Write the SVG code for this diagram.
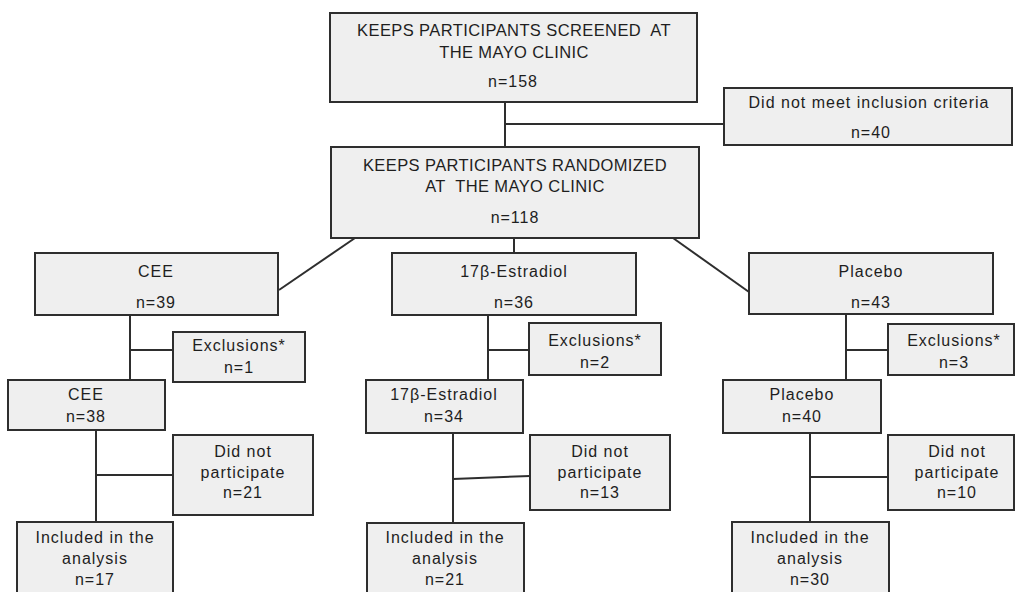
<svg xmlns="http://www.w3.org/2000/svg" width="1015" height="592" viewBox="0 0 1015 592">
<style>
.box{fill:#efefef;stroke:#2e2e2e;stroke-width:2}
.t{font-family:"Liberation Sans",Arial,sans-serif;font-size:16px;fill:#1e1e1e;text-anchor:middle;letter-spacing:1px}
.h{font-size:16.5px;letter-spacing:0.4px}
.c{stroke:#2e2e2e;stroke-width:2;fill:none}
</style>
<rect width="1015" height="592" fill="#ffffff"/>
<g id="connectors">
<line class="c" x1="505" y1="102" x2="505" y2="147"/>
<line class="c" x1="505" y1="124" x2="724" y2="124"/>
<line class="c" x1="514" y1="238" x2="514" y2="253"/>
<line class="c" x1="355" y1="238" x2="279" y2="290"/>
<line class="c" x1="673" y1="238" x2="749" y2="292"/>
<line class="c" x1="130" y1="315" x2="130" y2="380"/>
<line class="c" x1="130" y1="350" x2="173" y2="350"/>
<line class="c" x1="96" y1="430" x2="96" y2="522"/>
<line class="c" x1="96" y1="475" x2="173" y2="475"/>
<line class="c" x1="488" y1="315" x2="488" y2="380"/>
<line class="c" x1="488" y1="350" x2="529" y2="350"/>
<line class="c" x1="453" y1="433" x2="453" y2="523"/>
<line class="c" x1="453" y1="479" x2="530" y2="476"/>
<line class="c" x1="846" y1="314" x2="846" y2="380"/>
<line class="c" x1="846" y1="350" x2="888" y2="350"/>
<line class="c" x1="810" y1="433" x2="810" y2="522"/>
<line class="c" x1="810" y1="477" x2="888" y2="477"/>
</g>
<g id="screened">
<rect class="box" x="330" y="13" width="367" height="89"/>
<text class="t h" x="514" y="36" xml:space="preserve">KEEPS PARTICIPANTS SCREENED  AT</text>
<text class="t h" x="514" y="58">THE MAYO CLINIC</text>
<text class="t" x="513" y="87">n=158</text>
</g>
<g id="not-meet">
<rect class="box" x="724" y="88" width="288" height="57"/>
<text class="t" x="869" y="108">Did not meet inclusion criteria</text>
<text class="t" x="871" y="138">n=40</text>
</g>
<g id="randomized">
<rect class="box" x="331" y="147" width="368" height="91"/>
<text class="t h" x="515" y="171">KEEPS PARTICIPANTS RANDOMIZED</text>
<text class="t h" x="515" y="192" xml:space="preserve">AT  THE MAYO CLINIC</text>
<text class="t" x="515" y="223">n=118</text>
</g>
<g id="cee">
<rect class="box" x="35" y="253" width="243" height="62"/>
<text class="t" x="156" y="277">CEE</text>
<text class="t" x="156" y="308">n=39</text>
</g>
<g id="cee-excl">
<rect class="box" x="173" y="332" width="132" height="50"/>
<text class="t" x="239" y="351">Exclusions*</text>
<text class="t" x="239" y="373">n=1</text>
</g>
<g id="cee2">
<rect class="box" x="8" y="380" width="157" height="50"/>
<text class="t" x="86" y="400">CEE</text>
<text class="t" x="86" y="422">n=38</text>
</g>
<g id="cee-dnp">
<rect class="box" x="173" y="435" width="140" height="80"/>
<text class="t" x="243" y="457">Did not</text>
<text class="t" x="243" y="478">participate</text>
<text class="t" x="243" y="498">n=21</text>
</g>
<g id="cee-incl">
<rect class="box" x="17" y="522" width="156" height="80"/>
<text class="t" x="95" y="543">Included in the</text>
<text class="t" x="95" y="564">analysis</text>
<text class="t" x="95" y="585">n=17</text>
</g>
<g id="e2">
<rect class="box" x="392" y="253" width="244" height="62"/>
<text class="t" x="514" y="277">17β-Estradiol</text>
<text class="t" x="514" y="308">n=36</text>
</g>
<g id="e2-excl">
<rect class="box" x="529" y="323" width="132" height="52"/>
<text class="t" x="595" y="346">Exclusions*</text>
<text class="t" x="595" y="368">n=2</text>
</g>
<g id="e2b">
<rect class="box" x="366" y="380" width="157" height="53"/>
<text class="t" x="444" y="400">17β-Estradiol</text>
<text class="t" x="444" y="422">n=34</text>
</g>
<g id="e2-dnp">
<rect class="box" x="530" y="435" width="140" height="75"/>
<text class="t" x="600" y="457">Did not</text>
<text class="t" x="600" y="478">participate</text>
<text class="t" x="600" y="498">n=13</text>
</g>
<g id="e2-incl">
<rect class="box" x="367" y="523" width="157" height="80"/>
<text class="t" x="445" y="543">Included in the</text>
<text class="t" x="445" y="564">analysis</text>
<text class="t" x="445" y="585">n=21</text>
</g>
<g id="placebo">
<rect class="box" x="749" y="253" width="244" height="61"/>
<text class="t" x="871" y="277">Placebo</text>
<text class="t" x="871" y="308">n=43</text>
</g>
<g id="placebo-excl">
<rect class="box" x="888" y="324" width="126" height="51"/>
<text class="t" x="954" y="346">Exclusions*</text>
<text class="t" x="954" y="368">n=3</text>
</g>
<g id="placebo2">
<rect class="box" x="723" y="380" width="158" height="53"/>
<text class="t" x="802" y="400">Placebo</text>
<text class="t" x="802" y="422">n=40</text>
</g>
<g id="placebo-dnp">
<rect class="box" x="888" y="435" width="126" height="75"/>
<text class="t" x="957" y="457">Did not</text>
<text class="t" x="957" y="478">participate</text>
<text class="t" x="957" y="498">n=10</text>
</g>
<g id="placebo-incl">
<rect class="box" x="732" y="522" width="157" height="80"/>
<text class="t" x="810" y="543">Included in the</text>
<text class="t" x="810" y="564">analysis</text>
<text class="t" x="810" y="585">n=30</text>
</g>
</svg>
